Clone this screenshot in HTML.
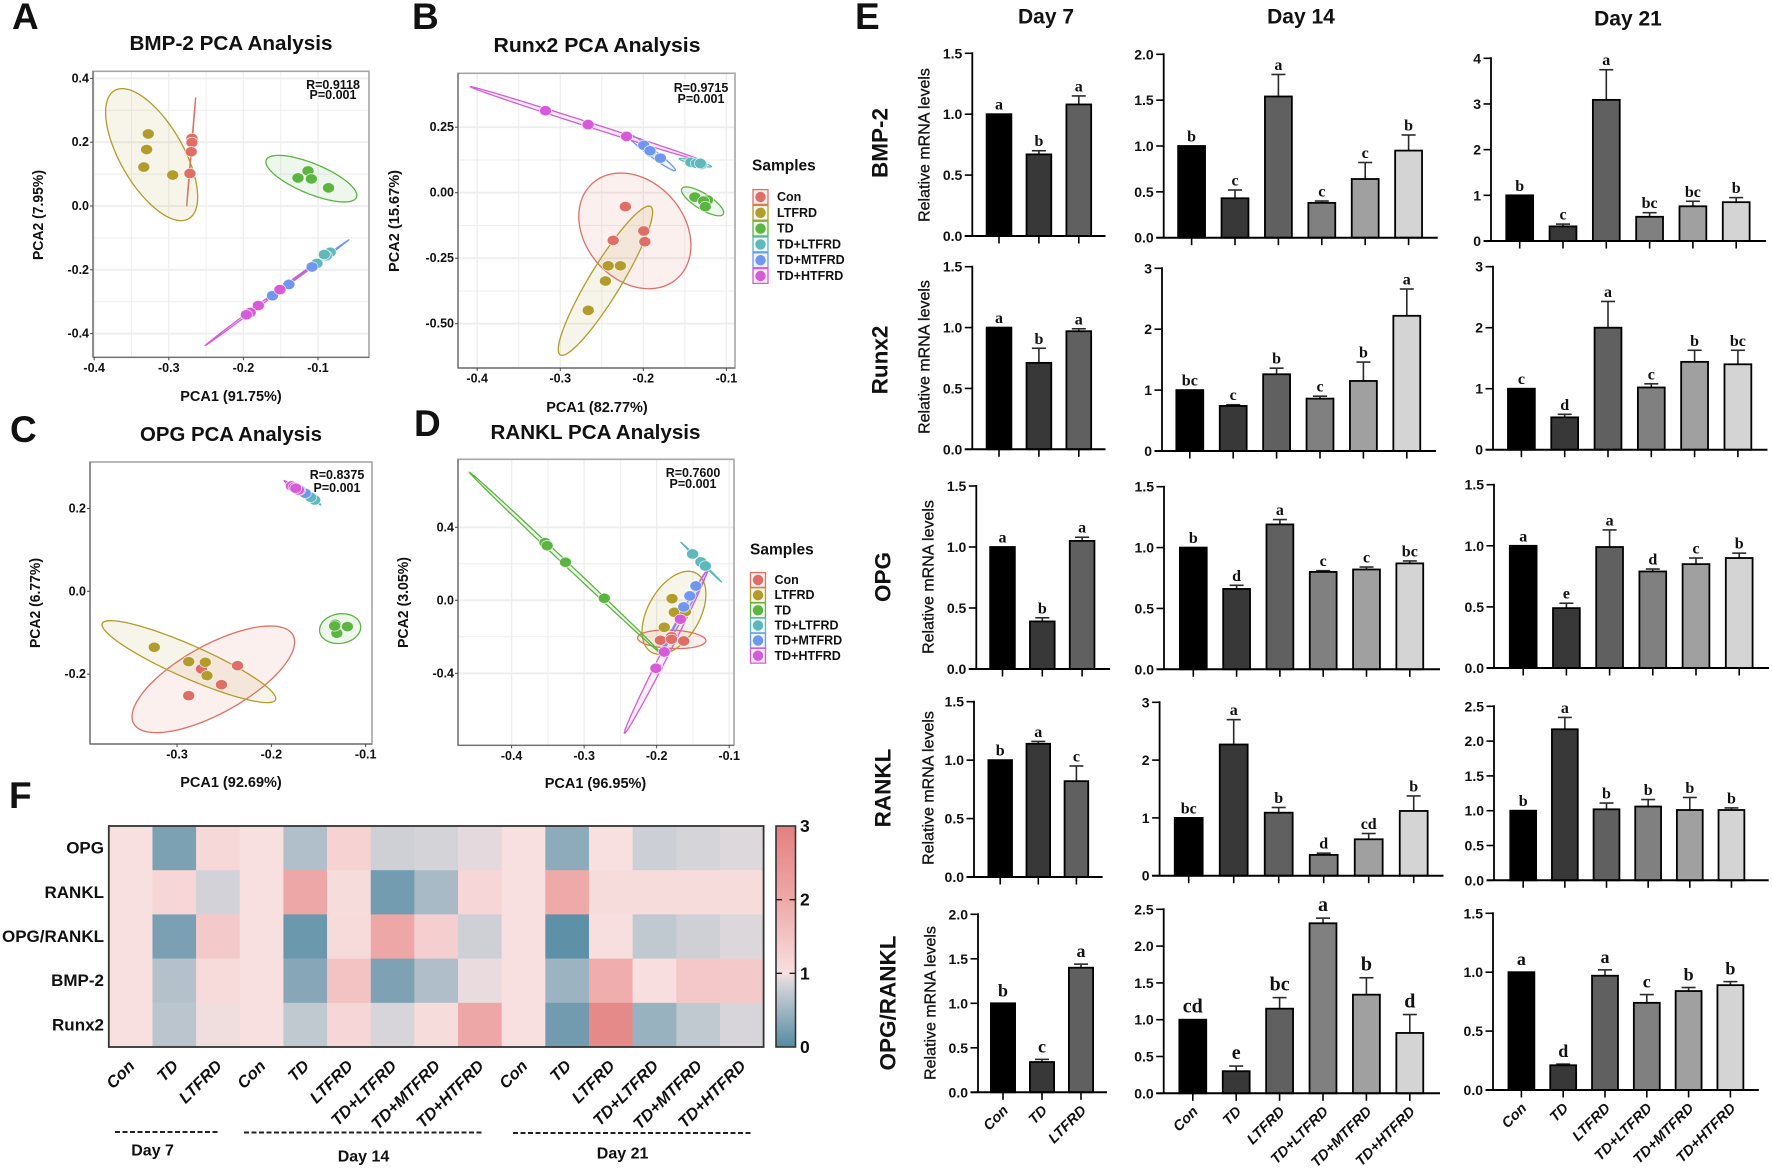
<!DOCTYPE html>
<html lang="en">
<head>
<meta charset="utf-8">
<title>PCA, heatmap and mRNA bar charts</title>
<style>
html,body{margin:0;padding:0;background:#fff;width:1772px;height:1169px;overflow:hidden}
svg{display:block;font-family:"Liberation Sans",sans-serif;font-weight:bold;fill:#111}
.c{text-anchor:middle;dominant-baseline:central}
.l{dominant-baseline:central}
.title{font-size:20px}
.axis-t{font-size:14.5px}
.note{font-size:12.5px}
.leg{font-size:12.5px}
.rowt{font-size:22.5px}
.rel{font-size:16px;font-weight:normal;stroke:#111;stroke-width:.3}
.day{font-size:21px}
.pl{font-size:37px}
</style>
</head>
<body>
<svg id="fig" xmlns="http://www.w3.org/2000/svg" width="1772" height="1169" viewBox="0 0 1772 1169">
<rect x="0" y="0" width="1772" height="1169" fill="#fff"/>
<g id="pca-layer"></g>
<g id="heat-layer"></g>
<g id="bar-layer"></g>

<text x="12" y="29" class="pl">A</text>
<text x="412" y="29" class="pl">B</text>
<text x="10" y="442" class="pl">C</text>
<text x="414" y="436" class="pl">D</text>
<text x="855" y="29" class="pl">E</text>
<text x="9" y="808" class="pl">F</text>

<text x="231" y="44" class="c title" textLength="203" lengthAdjust="spacingAndGlyphs">BMP-2 PCA Analysis</text>
<text x="597" y="46" class="c title" textLength="207" lengthAdjust="spacingAndGlyphs">Runx2 PCA Analysis</text>
<text x="231" y="435" class="c title" textLength="182" lengthAdjust="spacingAndGlyphs">OPG PCA Analysis</text>
<text x="595.5" y="433" class="c title" textLength="210" lengthAdjust="spacingAndGlyphs">RANKL PCA Analysis</text>

<text x="231" y="397" class="c axis-t">PCA1 (91.75%)</text>
<text x="597" y="408" class="c axis-t">PCA1 (82.77%)</text>
<text x="231" y="783" class="c axis-t">PCA1 (92.69%)</text>
<text x="595.5" y="784" class="c axis-t">PCA1 (96.95%)</text>

<text transform="translate(39 215) rotate(-90)" class="c axis-t" textLength="90" lengthAdjust="spacingAndGlyphs">PCA2 (7.95%)</text>
<text transform="translate(395 221) rotate(-90)" class="c axis-t" textLength="102" lengthAdjust="spacingAndGlyphs">PCA2 (15.67%)</text>
<text transform="translate(36 603) rotate(-90)" class="c axis-t" textLength="90" lengthAdjust="spacingAndGlyphs">PCA2 (6.77%)</text>
<text transform="translate(404 602.5) rotate(-90)" class="c axis-t" textLength="91" lengthAdjust="spacingAndGlyphs">PCA2 (3.05%)</text>

<text x="333" y="85" class="c note">R=0.9118</text>
<text x="333" y="95" class="c note">P=0.001</text>
<text x="701" y="88" class="c note">R=0.9715</text>
<text x="701" y="99" class="c note">P=0.001</text>
<text x="337" y="475" class="c note">R=0.8375</text>
<text x="337" y="488" class="c note">P=0.001</text>
<text x="693" y="473" class="c note">R=0.7600</text>
<text x="693" y="484" class="c note">P=0.001</text>

<text x="752" y="166" class="l" font-size="15.5">Samples</text>
<text x="750" y="550" class="l" font-size="15.5">Samples</text>

<text x="1046" y="17" class="c day">Day 7</text>
<text x="1301" y="17" class="c day">Day 14</text>
<text x="1628" y="19" class="c day">Day 21</text>

<text transform="translate(880 143) rotate(-90)" class="c rowt">BMP-2</text>
<text transform="translate(880 360) rotate(-90)" class="c rowt">Runx2</text>
<text transform="translate(883 577) rotate(-90)" class="c rowt">OPG</text>
<text transform="translate(883 788) rotate(-90)" class="c rowt">RANKL</text>
<text transform="translate(888 1003) rotate(-90)" class="c rowt">OPG/RANKL</text>

<text transform="translate(925 145) rotate(-90)" class="c rel">Relative mRNA levels</text>
<text transform="translate(925 357) rotate(-90)" class="c rel">Relative mRNA levels</text>
<text transform="translate(929 577) rotate(-90)" class="c rel">Relative mRNA levels</text>
<text transform="translate(929 788) rotate(-90)" class="c rel">Relative mRNA levels</text>
<text transform="translate(931 1003) rotate(-90)" class="c rel">Relative mRNA levels</text>

<line x1="115" y1="1132" x2="219" y2="1132" stroke="#222" stroke-width="2" stroke-dasharray="5 2.5"/>
<line x1="244" y1="1132.5" x2="483" y2="1132.5" stroke="#222" stroke-width="2" stroke-dasharray="5 2.5"/>
<line x1="513" y1="1133" x2="752" y2="1133" stroke="#222" stroke-width="2" stroke-dasharray="5 2.5"/>
<text x="152.6" y="1151" class="c" font-size="16">Day 7</text>
<text x="363.5" y="1157" class="c" font-size="16">Day 14</text>
<text x="622.6" y="1154" class="c" font-size="16">Day 21</text>
</svg>

<script>
// ---------- PCA data (PC1 / PC2 scores per sample group) ----------
const pcaGroups = ['Con','LTFRD','TD','TD+LTFRD','TD+MTFRD','TD+HTFRD'];

const bmpPcaX = [[-.269,-.269,-.270,-.2717],[-.3275,-.3297,-.3335,-.2948],[-.1134,-.1268,-.1089,-.0859],[-.0836,-.0888,-.0915,-.1015],[-.108,-.139,-.161],[-.151,-.180,-.191,-.196]];
const bmpPcaY = [[.212,.199,.170,.102],[.226,.177,.122,.097],[.110,.088,.085,.057],[-.145,-.156,-.152,-.180],[-.191,-.246,-.281],[-.262,-.312,-.334,-.341]];
// ellipse statistics: centre x, centre y, spread x, spread y, correlation
const bmpPcaEllipses = [[-.27,.170,.006,.170,.999],[-.323,.161,.0617,.207,-.64],[-.1089,.0857,.061,.073,-.72],[-.0903,-.161,.0193,.0345,.999],[-.114,-.2006,.055,.094,.9995],[-.1803,-.3135,.0706,.1233,.9995]];

const runxPcaX = [[-.2216,-.1995,-.1982,-.2363],[-.2276,-.2423,-.2456,-.2663],[-.138,-.1227,-.1274,-.1254],[-.1428,-.1361,-.1301,-.1314],[-.1995,-.1915,-.1795,-.192],[-.3178,-.267,-.2665,-.2202]];
const runxPcaY = [[-.053,-.146,-.187,-.182],[-.279,-.279,-.337,-.449],[-.0165,-.028,-.032,-.053],[.116,.112,.108,.112],[.181,.156,.132,.16],[.313,.258,.26,.215]];
const runxPcaEllipses = [[-.2102,-.1457,.0675,.2208,-.25],[-.2456,-.336,.0568,.285,.92],[-.1287,-.033,.0254,.055,-.78],[-.1374,.1145,.0194,.0165,-.9],[-.1908,.155,.0294,.0712,-.97],[-.2677,.262,.1403,.1425,-.998]];

const opgPcaX = [[-.2359,-.2741,-.2529,-.2876],[-.3241,-.2876,-.27,-.2682],[-.1324,-.1194,-.1306,-.1329],[-.1541,-.1582],[-.1641,-.17],[-.1788,-.1759,-.1712,-.1741]];
const opgPcaY = [[-.1795,-.1875,-.2254,-.2519],[-.1352,-.1698,-.1714,-.2036],[-.0797,-.0853,-.1014,-.0837],[.2205,.227],[.2366,.2447],[.2543,.2511,.2447,.2487]];
const opgPcaEllipses = [[-.2615,-.2125,.0862,.1288,.7],[-.2874,-.1698,.0921,.099,-.9],[-.1271,-.09,.0218,.036,.1],[-.1544,.2205,.0068,.0121,-.98],[-.1641,.2334,.0088,.0129,-.98],[-.1759,.2511,.0106,.0161,-.98]];

const ranklPcaX = [[-.1949,-.1796,-.1796,-.1627],[-.1788,-.1757,-.1604,-.1895],[-.354,-.351,-.3257,-.2722],[-.1505,-.139,-.1329],[-.1459,-.1543,-.1627],[-.1673,-.1895,-.1995,-.201]];
const ranklPcaY = [[-.2192,-.1991,-.2137,-.2228],[.0091,-.0658,-.0621,-.1479],[.316,.2995,.2082,.011],[.2539,.21,.1881],[.0785,.0237,-.0365],[-.1041,-.2831,-.3708,-.3726]];
const ranklPcaEllipses = [[-.1792,-.2137,.0471,.0511,-.15],[-.1761,-.0685,.044,.2274,.45],[-.3257,.2037,.1324,.4977,-.9995],[-.1386,.2091,.0279,.1087,-.999],[-.162,-.0621,.0329,.2283,.995],[-.1872,-.2813,.0574,.4475,.995]];

const pcaXTicks = ['-0.4','-0.3','-0.2','-0.1'];
const opgXTicks = ['-0.3','-0.2','-0.1'];
const bmpYTicks = ['0.4','0.2','0.0','-0.2','-0.4'];
const runxYTicks = ['0.25','0.00','-0.25','-0.50'];
const opgYTicks = ['0.2','0.0','-0.2'];
const ranklYTicks = ['0.4','0.0','-0.4'];

// ---------- Heatmap data ----------
const heatColumns = ['Con','TD','LTFRD','Con','TD','LTFRD','TD+LTFRD','TD+MTFRD','TD+HTFRD','Con','TD','LTFRD','TD+LTFRD','TD+MTFRD','TD+HTFRD'];
const heatRows = ['OPG','RANKL','OPG/RANKL','BMP-2','Runx2'];
const heatOpg = [1,.26,1.14,1,.61,1.25,.81,.84,.93,1,.37,1,.79,.85,.9];
const heatRankl = [1,1.18,.83,1,2.03,1.07,.2,.55,1.18,1,1.98,1.07,1.07,1.07,1.07];
const heatOpgRankl = [1,.25,1.41,1,.15,1.11,2.03,1.3,.81,1,.06,1.02,.71,.81,.89];
const heatBmp2 = [1,.63,1.11,1,.33,1.52,.27,.6,.95,1,.47,1.91,1.04,1.43,1.41];
const heatRunx2 = [1,.68,.97,1,.71,1.18,.87,1.07,2.02,1,.19,2.78,.45,.71,.87];
const colorbarTicks = ['0','1','2','3'];

// ---------- Bar chart data ----------
const cats3 = ['Con','TD','LTFRD'];
const cats6 = ['Con','TD','LTFRD','TD+LTFRD','TD+MTFRD','TD+HTFRD'];
const ticks15 = ['0.0','0.5','1.0','1.5'];
const ticks20 = ['0.0','0.5','1.0','1.5','2.0'];
const ticks25 = ['0.0','0.5','1.0','1.5','2.0','2.5'];
const ticks3 = ['0','1','2','3'];
const ticks4 = ['0','1','2','3','4'];

const bmp2D7 = [1,.67,1.08];                 const bmp2D7Err = [1,.70,1.15];                 const bmp2D7Sig = ['a','b','a'];
const bmp2D14 = [1,.43,1.54,.38,.64,.95];    const bmp2D14Err = [1,.52,1.78,.40,.82,1.12];   const bmp2D14Sig = ['b','c','a','c','c','b'];
const bmp2D21 = [1,.32,3.09,.53,.76,.85];    const bmp2D21Err = [1,.37,3.75,.62,.87,.95];    const bmp2D21Sig = ['b','c','a','bc','bc','b'];
const runxD7 = [1,.71,.97];                  const runxD7Err = [1,.83,.99];                  const runxD7Sig = ['a','b','a'];
const runxD14 = [1,.74,1.26,.86,1.15,2.22];  const runxD14Err = [1,.76,1.36,.90,1.46,2.66];  const runxD14Sig = ['bc','c','b','c','b','a'];
const runxD21 = [1,.53,2.0,1.02,1.44,1.40];  const runxD21Err = [1,.58,2.43,1.08,1.63,1.63]; const runxD21Sig = ['c','d','a','c','b','bc'];
const opgD7 = [1,.39,1.05];                  const opgD7Err = [1,.42,1.08];                  const opgD7Sig = ['a','b','a'];
const opgD14 = [1,.66,1.19,.80,.82,.87];     const opgD14Err = [1,.69,1.23,.81,.84,.89];     const opgD14Sig = ['b','d','a','c','c','bc'];
const opgD21 = [1,.49,.99,.79,.85,.90];      const opgD21Err = [1,.53,1.13,.81,.90,.94];     const opgD21Sig = ['a','e','a','d','c','b'];
const ranklD7 = [1,1.14,.82];                const ranklD7Err = [1,1.16,.95];                const ranklD7Sig = ['b','a','c'];
const ranklD14 = [1,2.27,1.09,.36,.63,1.12]; const ranklD14Err = [1,2.70,1.18,.39,.73,1.38]; const ranklD14Sig = ['bc','a','b','d','cd','b'];
const ranklD21 = [1,2.17,1.02,1.06,1.01,1.01]; const ranklD21Err = [1,2.34,1.11,1.16,1.19,1.04]; const ranklD21Sig = ['b','a','b','b','b','b'];
const ratioD7 = [1,.34,1.40];                const ratioD7Err = [1,.37,1.44];                const ratioD7Sig = ['b','c','a'];
const ratioD14 = [1,.30,1.15,2.31,1.34,.82]; const ratioD14Err = [1,.37,1.30,2.38,1.57,1.07]; const ratioD14Sig = ['cd','e','bc','a','b','d'];
const ratioD21 = [1,.21,.97,.74,.84,.89];    const ratioD21Err = [1,.22,1.02,.81,.87,.92];   const ratioD21Sig = ['a','d','a','c','b','b'];

// ---------- Drawing ----------
const NS = 'http://www.w3.org/2000/svg';
const svg = document.getElementById('fig');
function mk(tag, attrs, parent) {
  const el = document.createElementNS(NS, tag);
  for (const k in attrs) el.setAttribute(k, attrs[k]);
  parent.appendChild(el);
  return el;
}
const groupColors = ['#df6f66','#b29c2b','#5cb441','#5fb8bb','#6f97ef','#d65bd9'];

function ellipsePath(e, sx, sy) {
  const [cx, cy, w, h, rho] = e;
  const s = Math.sqrt(1 - rho * rho);
  let d = '';
  for (let i = 0; i <= 96; i++) {
    const t = i / 96 * Math.PI * 2;
    const px = sx(cx + w * Math.cos(t));
    const py = sy(cy + h * (rho * Math.cos(t) + s * Math.sin(t)));
    d += (i ? 'L' : 'M') + px.toFixed(2) + ' ' + py.toFixed(2);
  }
  return d + 'Z';
}

function drawPca(cfg) {
  const layer = document.getElementById('pca-layer');
  const g = mk('g', {}, layer);
  
  
  const sx = v => cfg.xRef + (v + .1) * cfg.xUnit;
  const sy = v => cfg.yRef - v * cfg.yUnit;
  const box = cfg.box;
  if (cfg.grid) {
    const xv = cfg.xTicks.map(Number), yv = cfg.yTicks.map(Number);
    const minor = a => a.slice(1).map((v, i) => (v + a[i]) / 2);
    [[minor(xv), 1, 'x'], [minor(yv), 1, 'y'], [xv, 1.3, 'x'], [yv, 1.8, 'y']].forEach(set => {
      set[0].forEach(v => {
        const line = set[2] === 'x'
          ? mk('line', {x1: sx(v), x2: sx(v), y1: box[2], y2: box[3], stroke: '#eeeeee', 'stroke-width': set[1]}, g)
          : mk('line', {x1: box[0], x2: box[1], y1: sy(v), y2: sy(v), stroke: '#eeeeee', 'stroke-width': set[1]}, g);
        
        
      });
    });
  }
  const frame = mk('rect', {x: box[0], y: box[2], width: box[1] - box[0], height: box[3] - box[2], fill: 'none', stroke: '#a6a6a6', 'stroke-width': 1.6}, g);
  
  
  const leftEdge = mk('line', {x1: box[0], x2: box[0], y1: box[2], y2: box[3], stroke: '#6a6a6a', 'stroke-width': 1.2}, g);
  
  
  const bottomEdge = mk('line', {x1: box[0], x2: box[1], y1: box[3], y2: box[3], stroke: '#6a6a6a', 'stroke-width': 1.2}, g);
  
  
  cfg.xTicks.forEach(lbl => {
    const v = Number(lbl);
    const t = mk('line', {x1: sx(v), x2: sx(v), y1: box[3], y2: box[3] + 3, stroke: '#444', 'stroke-width': 1}, g);
    
    
    const x = mk('text', {x: sx(v), y: box[3] + 10.5, class: 'c', 'font-size': 12.5}, g);
    x.textContent = lbl;
    
    
  });
  cfg.yTicks.forEach(lbl => {
    const v = Number(lbl);
    const t = mk('line', {x1: box[0] - 3, x2: box[0], y1: sy(v), y2: sy(v), stroke: '#444', 'stroke-width': 1}, g);
    
    
    const y = mk('text', {x: box[0] - 4, y: sy(v), class: 'l', 'text-anchor': 'end', 'font-size': 12.5}, g);
    y.textContent = lbl;
    
    
  });
  cfg.ellipses.forEach((e, i) => {
    const p = mk('path', {d: ellipsePath(e, sx, sy), fill: groupColors[i], 'fill-opacity': .1, stroke: groupColors[i], 'stroke-width': 1.3}, g);
    
    
  });
  cfg.xs.forEach((xs, i) => {
    xs.forEach((v, j) => {
      const c = mk('ellipse', {cx: sx(v), cy: sy(cfg.ys[i][j]), rx: 6, ry: 5.2, fill: groupColors[i], stroke: '#ffffff', 'stroke-opacity': .75, 'stroke-width': .8}, g);
      
      
    });
  });
}

drawPca({id:'a', xs:bmpPcaX, ys:bmpPcaY, ellipses:bmpPcaEllipses, xTicks:pcaXTicks, yTicks:bmpYTicks, grid:true, box:[93,369,71.3,357.3], xRef:318, xUnit:746, yRef:206, yUnit:319});
drawPca({id:'b', xs:runxPcaX, ys:runxPcaY, ellipses:runxPcaEllipses, xTicks:pcaXTicks, yTicks:runxYTicks, grid:true, box:[458,735,73.3,368], xRef:726.4, xUnit:830.7, yRef:192.7, yUnit:262});
drawPca({id:'c', xs:opgPcaX, ys:opgPcaY, ellipses:opgPcaEllipses, xTicks:opgXTicks, yTicks:opgYTicks, grid:false, box:[90,372,462,744], xRef:365.7, xUnit:943.4, yRef:591.3, yUnit:414.2});
drawPca({id:'d', xs:ranklPcaX, ys:ranklPcaY, ellipses:ranklPcaEllipses, xTicks:pcaXTicks, yTicks:ranklYTicks, grid:true, box:[458,734,459.3,745.3], xRef:729.2, xUnit:725.3, yRef:600.3, yUnit:182.5});

function drawLegend(id, x, yStart, yStep) {
  const g = mk('g', {}, svg);
  
  
  pcaGroups.forEach((name, i) => {
    const y = yStart + i * yStep;
    const b = mk('rect', {x: x, y: y - 7.4, width: 15, height: 14.8, fill: groupColors[i], 'fill-opacity': .1, stroke: groupColors[i], 'stroke-width': 1.3}, g);
    
    
    const c = mk('circle', {cx: x + 7.5, cy: y, r: 5.2, fill: groupColors[i]}, g);
    
    
    const t = mk('text', {x: x + 24, y: y, class: 'l leg'}, g);
    t.textContent = name;
    
    
  });
}
drawLegend('b', 753, 197, 15.8);
drawLegend('d', 750.5, 580, 15.15);

// heatmap colour scale
const scaleStops = [[0,[0x55,0x8b,0xa3]],[.9,[0xdc,0xd8,0xdc]],[1,[0xf8,0xe0,0xe0]],[2,[0xee,0xa8,0xa8]],[3,[0xe4,0x80,0x80]]];
function heatColor(v) {
  for (let i = 1; i < scaleStops.length; i++) {
    if (v <= scaleStops[i][0]) {
      const a = scaleStops[i - 1], b = scaleStops[i];
      const t = (v - a[0]) / (b[0] - a[0]);
      const c = a[1].map((q, k) => Math.round(q + (b[1][k] - q) * t));
      return 'rgb(' + c.join(',') + ')';
    }
  }
  return 'rgb(' + scaleStops[4][1].join(',') + ')';
}
(function drawHeat() {
  const layer = document.getElementById('heat-layer');
  const X0 = 108.8, X1 = 763.6, Y0 = 826, Y1 = 1047;
  const matrix = [heatOpg, heatRankl, heatOpgRankl, heatBmp2, heatRunx2];
  const cw = (X1 - X0) / heatColumns.length, ch = (Y1 - Y0) / heatRows.length;
  matrix.forEach((row, r) => {
    row.forEach((v, c) => {
      const cell = mk('rect', {x: X0 + c * cw, y: Y0 + r * ch, width: cw + .3, height: ch + .3, fill: heatColor(v)}, layer);
      
      
    });
    const lbl = mk('text', {x: 104, y: Y0 + (r + .5) * ch, class: 'l', 'text-anchor': 'end', 'font-size': 17}, layer);
    lbl.textContent = heatRows[r];
    
    
  });
  const frame = mk('rect', {x: X0, y: Y0, width: X1 - X0, height: Y1 - Y0, fill: 'none', stroke: '#333', 'stroke-width': 1.8}, layer);
  
  
  heatColumns.forEach((name, c) => {
    const cx = X0 + (c + .5) * cw + 5;
    const t = mk('text', {transform: 'translate(' + cx + ' 1067) rotate(-45)', 'text-anchor': 'end', 'font-size': 16.5, 'font-style': 'italic'}, layer);
    t.textContent = name;
    
    
  });
  // colour bar
  const defs = mk('defs', {}, layer);
  const grad = mk('linearGradient', {id: 'cbar', x1: 0, y1: 1, x2: 0, y2: 0}, defs);
  scaleStops.forEach(s => {
    mk('stop', {offset: s[0] / 3, 'stop-color': 'rgb(' + s[1].join(',') + ')'}, grad);
  });
  const BX0 = 776, BX1 = 795.5;
  const bar = mk('rect', {x: BX0, y: Y0, width: BX1 - BX0, height: Y1 - Y0, fill: 'url(#cbar)', stroke: '#333', 'stroke-width': 1.6}, layer);
  
  
  colorbarTicks.forEach(lbl => {
    const v = Number(lbl);
    const y = Y1 - v * (Y1 - Y0) / 3;
    if (v > 0 && v < 3) {
      const a = mk('line', {x1: BX0, x2: BX0 + 6, y1: y, y2: y, stroke: '#222', 'stroke-width': 1.4}, layer);
      
      
      const b = mk('line', {x1: BX1 - 6, x2: BX1, y1: y, y2: y, stroke: '#222', 'stroke-width': 1.4}, layer);
      
      
    }
    const t = mk('text', {x: 800, y: y, class: 'l', 'font-size': 17.5}, layer);
    t.textContent = lbl;
    
    
  });
})();

// bar panels
const barFills = ['#000000','#383838','#606060','#808080','#a0a0a0','#d4d4d4'];
function drawBars(cfg) {
  const layer = document.getElementById('bar-layer');
  const g = mk('g', {}, layer);
  
  
  const maxV = Number(cfg.ticks[cfg.ticks.length - 1]);
  const sy = v => cfg.y0 - v / maxV * (cfg.y0 - cfg.yTop);
  const cx = i => cfg.c0 + i * cfg.step;
  const bw = cfg.step * .62;
  const sigSize = cfg.bigSig || 16;
  cfg.values.forEach((v, i) => {
    const top = sy(cfg.err[i]);
    if (cfg.err[i] > v) {
      const e = mk('line', {x1: cx(i), x2: cx(i), y1: top, y2: sy(v), stroke: '#2a2a2a', 'stroke-width': 1.6}, g);
      
      
      const cap = mk('line', {x1: cx(i) - 7, x2: cx(i) + 7, y1: top, y2: top, stroke: '#2a2a2a', 'stroke-width': 1.6}, g);
      
      
    }
    const b = mk('rect', {x: cx(i) - bw / 2, y: sy(v), width: bw, height: cfg.y0 - sy(v), fill: barFills[i], stroke: '#000', 'stroke-width': 1.8}, g);
    
    
    const s = mk('text', {x: cx(i), y: Math.min(top, sy(v)) - (cfg.bigSig ? 7 : 4.5), 'text-anchor': 'middle', 'font-size': sigSize, style: 'font-family:"Liberation Serif",serif;font-weight:bold'}, g);
    s.textContent = cfg.sig[i];
    
    
    const t = mk('line', {x1: cx(i), x2: cx(i), y1: cfg.y0, y2: cfg.y0 + 7.5, stroke: '#000', 'stroke-width': 1.6}, g);
    
    
    if (cfg.showCats) {
      const c = mk('text', {transform: 'translate(' + (cx(i) + 6) + ' ' + (cfg.y0 + 19) + ') rotate(-45)', 'text-anchor': 'end', 'font-size': 14.5, 'font-style': 'italic'}, g);
      c.textContent = cfg.cats[i];
      
      
    }
  });
  const ya = mk('line', {x1: cfg.ax, x2: cfg.ax, y1: cfg.yTop - 1, y2: cfg.y0, stroke: '#000', 'stroke-width': 1.8}, g);
  
  
  const xa = mk('line', {x1: cfg.ax - 7.5, x2: cfg.xr, y1: cfg.y0, y2: cfg.y0, stroke: '#000', 'stroke-width': 2}, g);
  
  
  cfg.ticks.forEach(lbl => {
    const v = Number(lbl);
    const t = mk('line', {x1: cfg.ax - 7.5, x2: cfg.ax, y1: sy(v), y2: sy(v), stroke: '#000', 'stroke-width': 1.6}, g);
    
    
    const y = mk('text', {x: cfg.ax - 10, y: sy(v), class: 'l', 'text-anchor': 'end', 'font-size': 14}, g);
    y.textContent = lbl;
    
    
  });
}

drawBars({id:'bmp2-day7', values:bmp2D7, err:bmp2D7Err, sig:bmp2D7Sig, cats:cats3, ticks:ticks15, ax:972.3, yTop:53.3, y0:236, xr:1105.5, c0:999, step:39.9});
drawBars({id:'bmp2-day14', values:bmp2D14, err:bmp2D14Err, sig:bmp2D14Sig, cats:cats6, ticks:ticks20, ax:1163.7, yTop:54.3, y0:237.7, xr:1437.7, c0:1191.6, step:43.4});
drawBars({id:'bmp2-day21', values:bmp2D21, err:bmp2D21Err, sig:bmp2D21Sig, cats:cats6, ticks:ticks4, ax:1491, yTop:58.3, y0:241, xr:1766, c0:1519.7, step:43.3});
drawBars({id:'runx2-day7', values:runxD7, err:runxD7Err, sig:runxD7Sig, cats:cats3, ticks:ticks15, ax:972.3, yTop:266.7, y0:449.3, xr:1105.5, c0:999, step:39.9});
drawBars({id:'runx2-day14', values:runxD14, err:runxD14Err, sig:runxD14Sig, cats:cats6, ticks:ticks3, ax:1162, yTop:268.3, y0:451, xr:1436, c0:1189.8, step:43.4});
drawBars({id:'runx2-day21', values:runxD21, err:runxD21Err, sig:runxD21Sig, cats:cats6, ticks:ticks3, ax:1493, yTop:266.7, y0:449.7, xr:1767.5, c0:1521.4, step:43.3});
drawBars({id:'opg-day7', values:opgD7, err:opgD7Err, sig:opgD7Sig, cats:cats3, ticks:ticks15, ax:976.3, yTop:486, y0:669, xr:1110, c0:1002.5, step:39.8});
drawBars({id:'opg-day14', values:opgD14, err:opgD14Err, sig:opgD14Sig, cats:cats6, ticks:ticks15, ax:1164, yTop:486.7, y0:669.3, xr:1440, c0:1193.3, step:43.3});
drawBars({id:'opg-day21', values:opgD21, err:opgD21Err, sig:opgD21Sig, cats:cats6, ticks:ticks15, ax:1494, yTop:484.7, y0:668, xr:1769, c0:1523.2, step:43.2});
drawBars({id:'rankl-day7', values:ranklD7, err:ranklD7Err, sig:ranklD7Sig, cats:cats3, ticks:ticks15, ax:974, yTop:701.7, y0:877, xr:1102.6, c0:1000.2, step:38.1});
drawBars({id:'rankl-day14', values:ranklD14, err:ranklD14Err, sig:ranklD14Sig, cats:cats6, ticks:ticks3, ax:1159.6, yTop:702.3, y0:875.7, xr:1443.5, c0:1188.7, step:45});
drawBars({id:'rankl-day21', values:ranklD21, err:ranklD21Err, sig:ranklD21Sig, cats:cats6, ticks:ticks25, ax:1494, yTop:706.3, y0:880.3, xr:1768.7, c0:1523.2, step:41.65});
drawBars({id:'ratio-day7', values:ratioD7, err:ratioD7Err, sig:ratioD7Sig, cats:cats3, ticks:ticks20, ax:978, yTop:914.3, y0:1092.3, xr:1107, c0:1003, step:39, showCats:true, bigSig:18});
drawBars({id:'ratio-day14', values:ratioD14, err:ratioD14Err, sig:ratioD14Sig, cats:cats6, ticks:ticks25, ax:1163.7, yTop:909.3, y0:1093.3, xr:1440, c0:1192.8, step:43.4, showCats:true, bigSig:20});
drawBars({id:'ratio-day21', values:ratioD21, err:ratioD21Err, sig:ratioD21Sig, cats:cats6, ticks:ticks15, ax:1493, yTop:913.3, y0:1090, xr:1758.8, c0:1521.4, step:41.8, showCats:true, bigSig:18});
</script>
</body>
</html>
